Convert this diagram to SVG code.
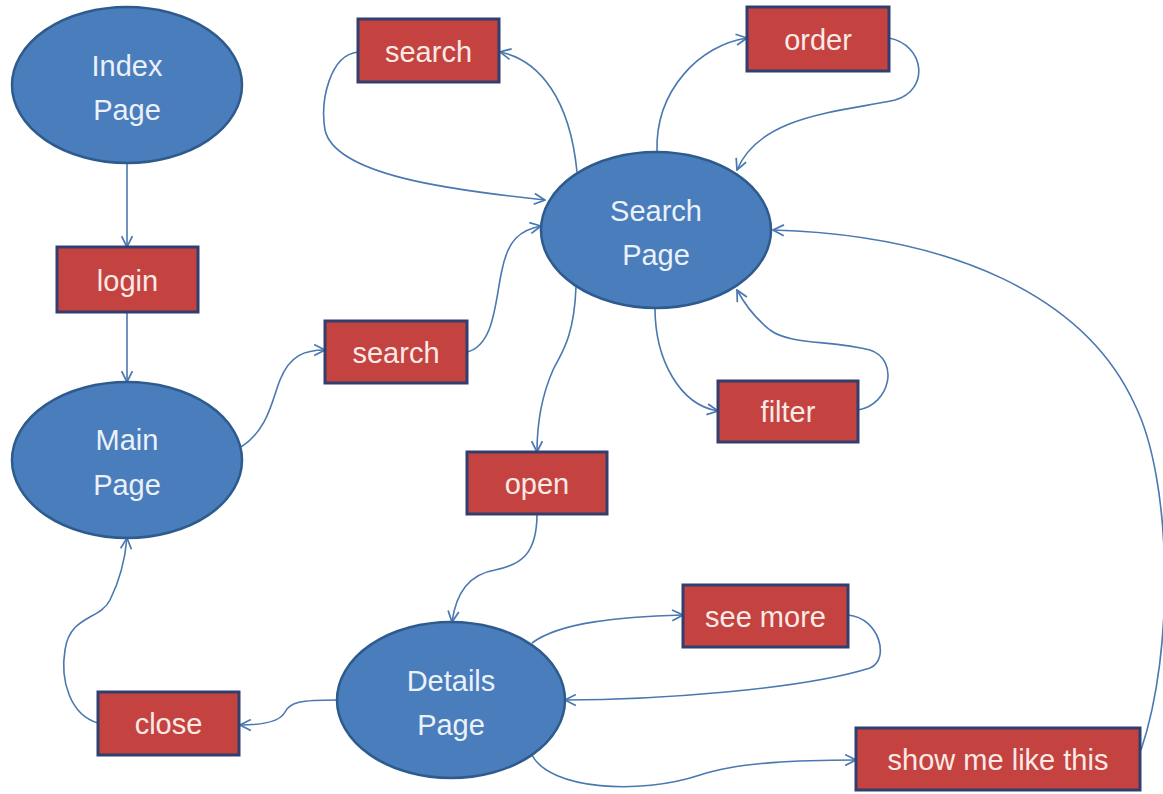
<svg xmlns="http://www.w3.org/2000/svg" width="1163" height="794" viewBox="0 0 1163 794">
<style>
.page{fill:#4a7dbb;stroke:#2e5b8e;stroke-width:2.5}
.act{fill:#c4423f;stroke:#323f6e;stroke-width:3}
.pt{font-family:"Liberation Sans",Arial,sans-serif;font-size:29px;fill:#eaf1fa;text-anchor:middle}
.at{font-family:"Liberation Sans",Arial,sans-serif;font-size:29px;fill:#fbe9e6;text-anchor:middle}
.c{fill:none;stroke:#4a78b0;stroke-width:1.6;marker-end:url(#ah)}
</style>
<defs>
<marker id="ah" viewBox="0 0 12 12" refX="11" refY="6" markerWidth="13" markerHeight="13" markerUnits="userSpaceOnUse" orient="auto">
<path d="M1,1 L11,6 L1,11" fill="none" stroke="#4a78b0" stroke-width="1.6"/>
</marker>
</defs>
<rect width="1163" height="794" fill="#ffffff"/>
<g id="connectors">
<path class="c" d="M127,163 L127,247"/>
<path class="c" d="M127,312 L127,382"/>
<path class="c" d="M241,447 C268,430 272,400 280,380 C290,355 305,350 325,350"/>
<path class="c" d="M467,352 C495,345 495,300 502,270 C508,240 520,230 541,226"/>
<path class="c" d="M577,172 C570,100 540,60 500,52"/>
<path class="c" d="M358,52 C330,55 320,100 325,130 C335,175 450,190 545,200"/>
<path class="c" d="M657,152 C655,90 700,45 747,38"/>
<path class="c" d="M889,38 C925,45 930,90 895,100 C840,112 760,115 737,170"/>
<path class="c" d="M1141,750 C1175,650 1172,480 1135,405 C1085,295 950,235 773,230"/>
<path class="c" d="M655,308 C655,360 680,405 718,411"/>
<path class="c" d="M858,410 C890,405 900,360 870,350 C830,340 790,345 770,330 C755,318 745,305 737,290"/>
<path class="c" d="M576,287 C574,340 560,355 553,370 C542,395 537,420 537,452"/>
<path class="c" d="M537,514 C537,555 520,565 495,570 C465,575 455,600 452,622"/>
<path class="c" d="M532,643 C560,622 620,617 683,615"/>
<path class="c" d="M848,615 C880,618 890,660 870,668 C800,690 650,700 565,700"/>
<path class="c" d="M337,700 C300,700 290,702 285,712 C280,722 260,725 240,725"/>
<path class="c" d="M98,723 C70,715 60,680 65,650 C70,615 100,620 110,600 C120,580 125,560 127,538"/>
<path class="c" d="M532,755 C550,790 640,795 700,775 C740,762 800,760 856,760"/>
</g>
<g id="index-page"><ellipse class="page" cx="127" cy="85" rx="115" ry="78"/><text class="pt" x="127" y="76">Index</text><text class="pt" x="127" y="120">Page</text></g>
<g id="search-page"><ellipse class="page" cx="656" cy="230" rx="115" ry="78"/><text class="pt" x="656" y="221">Search</text><text class="pt" x="656" y="265">Page</text></g>
<g id="main-page"><ellipse class="page" cx="127" cy="460" rx="115" ry="78"/><text class="pt" x="127" y="450">Main</text><text class="pt" x="127" y="495">Page</text></g>
<g id="details-page"><ellipse class="page" cx="451" cy="700" rx="114" ry="78"/><text class="pt" x="451" y="691">Details</text><text class="pt" x="451" y="735">Page</text></g>
<g id="login"><rect class="act" x="57" y="247" width="141" height="65"/><text class="at" x="127.5" y="291">login</text></g>
<g id="search-top"><rect class="act" x="358" y="19" width="141" height="63"/><text class="at" x="428.5" y="62">search</text></g>
<g id="order"><rect class="act" x="747" y="7" width="142" height="64"/><text class="at" x="818" y="50">order</text></g>
<g id="search-mid"><rect class="act" x="325" y="321" width="142" height="62"/><text class="at" x="396" y="363">search</text></g>
<g id="filter"><rect class="act" x="718" y="381" width="140" height="61"/><text class="at" x="788" y="422">filter</text></g>
<g id="open"><rect class="act" x="467" y="452" width="140" height="62"/><text class="at" x="537" y="494">open</text></g>
<g id="see-more"><rect class="act" x="683" y="585" width="165" height="62"/><text class="at" x="765.5" y="627">see more</text></g>
<g id="close"><rect class="act" x="98" y="692" width="141" height="63"/><text class="at" x="168.5" y="734">close</text></g>
<g id="show-me-like-this"><rect class="act" x="856" y="728" width="284" height="62"/><text class="at" x="998" y="770">show me like this</text></g>
</svg>
